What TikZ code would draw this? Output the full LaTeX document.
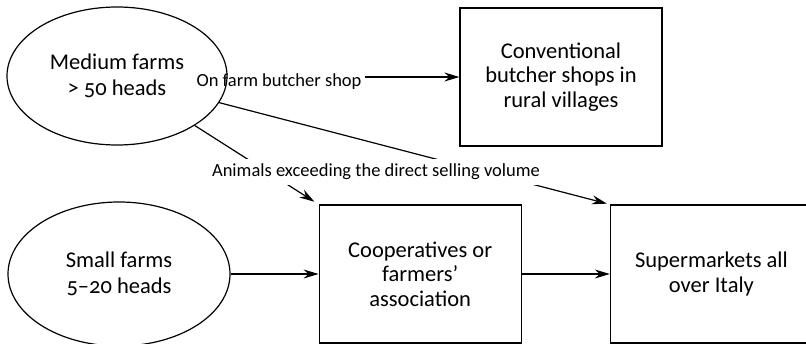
\documentclass[tikz,border=0pt]{standalone}
\usepackage{fontspec}
\setmainfont{Carlito}[Numbers=OldStyle]
\usetikzlibrary{arrows.meta, positioning, shapes.geometric}

\begin{document}
\begin{tikzpicture}[
    >=Stealth,
    node distance=88pt,
    % --- block styles ---
    farm/.style={
        draw=black, ellipse, line width=1.2pt,
        minimum width=220pt, minimum height=138pt,
        font=\fontsize{22.5}{26}\selectfont, align=center},
    outlet/.style={
        draw=black, rectangle, line width=1.2pt,
        minimum width=202pt, minimum height=138pt,
        font=\fontsize{22.5}{24.5}\selectfont, align=center},
    lbl/.style={
        font=\fontsize{18.5}{20}\selectfont, inner sep=3pt},
    arr/.style={->, line width=1.2pt, black,
        arrows={-Stealth[length=15pt, width=9pt]}},
]

% ===== FRAME (boxes run off the page) =====
\path[use as bounding box, clip] (0,0) rectangle (806pt,-343pt);

% ===== FARMS (left) =====
\node[farm] (medium) at (117pt,-76pt) {Medium farms\\> 50 heads};
\node[farm, minimum width=222pt, minimum height=144pt] (small) at (119pt,-274pt)
    {Small farms\\5–20 heads};

% ===== OUTLETS =====
\node[outlet] (conv) at (561pt,-77pt) {Conventional\\butcher shops in\\rural villages};
\node[outlet, right=of small] (coop) {Cooperatives or\\farmers’\\association};
\node[outlet, right=of coop] (super) {Supermarkets all\\over Italy};

% ===== ARROWS — direct selling =====
\node[lbl] (direct) at (279pt,-82pt) {On farm butcher shop};
\draw[arr] (direct.east |- conv.west) -- (conv.west);

% ===== ARROWS — surplus animals =====
\draw[arr, shorten >=3pt] (medium) -- (super.north west);
\draw[arr, shorten >=5pt] (medium) -- (coop.north west);
\node[lbl, fill=white, inner ysep=5pt] (excess) at (376pt,-172pt)
    {Animals exceeding the direct selling volume};

% ===== ARROWS — chain =====
\draw[arr] (small) -- (coop);
\draw[arr] (coop) -- (super);

\end{tikzpicture}
\end{document}
